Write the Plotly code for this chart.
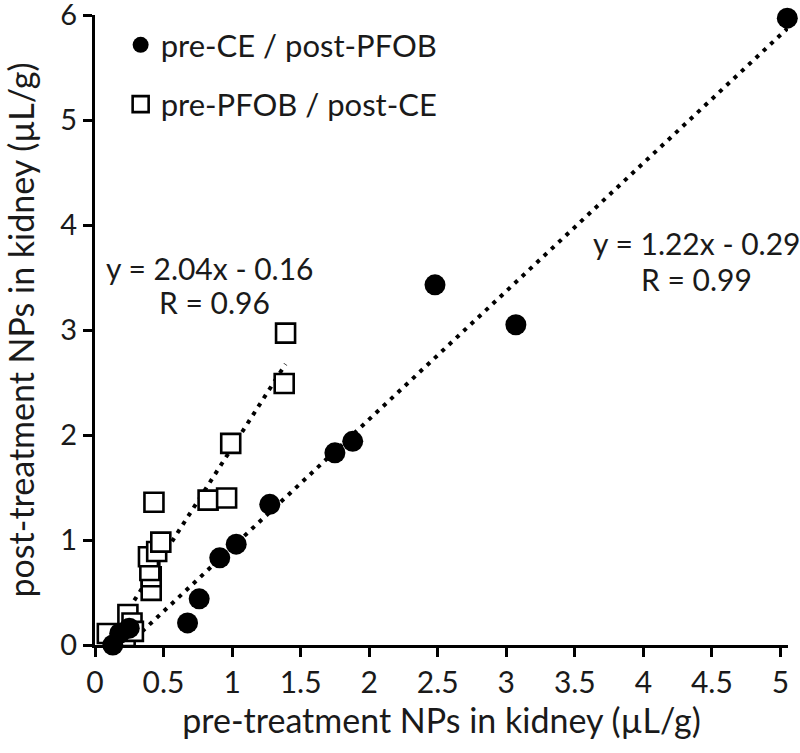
import plotly.graph_objects as go

# pre-CE / post-PFOB (filled circles)
ce_pre = [0.13, 0.18, 0.25, 0.675, 0.76, 0.91, 1.03, 1.275, 1.75, 1.88, 2.48, 3.07, 5.05]
ce_post = [0.0, 0.11, 0.16, 0.21, 0.44, 0.83, 0.96, 1.34, 1.83, 1.94, 3.43, 3.05, 5.97]

# pre-PFOB / post-CE (open squares)
pfob_pre = [0.09, 0.22, 0.24, 0.27, 0.28, 0.41, 0.41, 0.40, 0.39, 0.45, 0.48, 0.43, 0.825, 0.96, 0.99, 1.38, 1.39]
pfob_post = [0.11, 0.08, 0.29, 0.21, 0.13, 0.52, 0.65, 0.71, 0.84, 0.89, 0.98, 1.36, 1.38, 1.40, 1.92, 2.49, 2.97]

fit_ce = (1.22, -0.29)
fit_pfob = (2.04, -0.16)
eq_ce = ["y = 1.22x - 0.29", "R = 0.99"]
eq_pfob = ["y = 2.04x - 0.16", "R = 0.96"]

x_ticks = [0, 0.5, 1, 1.5, 2, 2.5, 3, 3.5, 4, 4.5, 5]
x_ticktext = ["0", "0.5", "1", "1.5", "2", "2.5", "3", "3.5", "4", "4.5", "5"]
y_ticks = [0, 1, 2, 3, 4, 5, 6]

FONT = "Lato"
TXT = "#1a1a1a"

PL, PR, PT, PB = 95, 788, 15, 645   # plot area in page pixels
XMAX = 5.055

def fit_line(xs, m, b):
    lo, hi = min(xs), max(xs)
    return [lo, hi], [m * lo + b, m * hi + b]

fig = go.Figure()

dot_line = dict(color="black", width=4, dash="4px,6px")
fx, fy = fit_line(pfob_pre, *fit_pfob)
fig.add_trace(go.Scatter(x=fx, y=fy, mode="lines", showlegend=False, line=dot_line, hoverinfo="skip"))
fx, fy = fit_line(ce_pre, *fit_ce)
fig.add_trace(go.Scatter(x=fx, y=fy, mode="lines", showlegend=False, line=dot_line, hoverinfo="skip"))

fig.add_trace(go.Scatter(x=pfob_pre, y=pfob_post, mode="markers", name="pre-PFOB / post-CE",
                         legendgroup="b", legendrank=2, cliponaxis=False,
                         marker=dict(symbol="square", size=19, color="white",
                                     line=dict(color="black", width=2.6))))
fig.add_trace(go.Scatter(x=ce_pre, y=ce_post, mode="markers", name="pre-CE / post-PFOB",
                         legendgroup="a", legendrank=1, cliponaxis=False,
                         marker=dict(symbol="circle", size=21, color="black",
                                     line=dict(color="black", width=0))))

ann_font = dict(family=FONT, size=30, color=TXT)
def px_ann(px, py, text):
    fig.add_annotation(x=(px - PL) / (PR - PL), y=(PB - py) / (PB - PT), xref="paper", yref="paper",
                       text=text, showarrow=False, font=ann_font, xanchor="center", yanchor="middle")

px_ann(210, 268, eq_pfob[0])
px_ann(214, 302, eq_pfob[1])
px_ann(697, 243, eq_ce[0])
px_ann(696, 279, eq_ce[1])

fig.update_layout(
    width=800, height=753,
    margin=dict(l=PL, r=800 - PR, t=PT, b=753 - PB, autoexpand=False),
    plot_bgcolor="white", paper_bgcolor="white",
    font=dict(family=FONT, size=30, color=TXT),
    showlegend=True,
    legend=dict(x=0.037, y=0.995, xanchor="left", yanchor="top",
                font=dict(family=FONT, size=31, color=TXT),
                traceorder="grouped", tracegroupgap=16,
                bgcolor="rgba(0,0,0,0)", itemsizing="trace"),
    xaxis=dict(range=[0, XMAX], tickvals=x_ticks, ticktext=x_ticktext, automargin=False,
               showgrid=False, zeroline=False, showline=True, linecolor="black", linewidth=3,
               ticks="outside", ticklen=9, tickwidth=3, tickcolor="black",
               ticklabeloverflow="allow",
               tickfont=dict(family=FONT, size=30, color=TXT),
               title=dict(text="pre-treatment NPs in kidney (µL/g)", standoff=6,
                          font=dict(family=FONT, size=34, color=TXT))),
    yaxis=dict(range=[0, 6], tickvals=y_ticks, automargin=False,
               showgrid=False, zeroline=False, showline=True, linecolor="black", linewidth=3,
               ticks="outside", ticklen=9, tickwidth=3, tickcolor="black",
               ticklabeloverflow="allow",
               tickfont=dict(family=FONT, size=29, color=TXT),
               title=dict(text="post-treatment NPs in kidney (µL/g)", standoff=18,
                          font=dict(family=FONT, size=34, color=TXT))),
)

fig.write_html("out.html", config={"displayModeBar": False},
               post_script="document.body.style.margin='0';document.body.style.overflow='hidden';")
